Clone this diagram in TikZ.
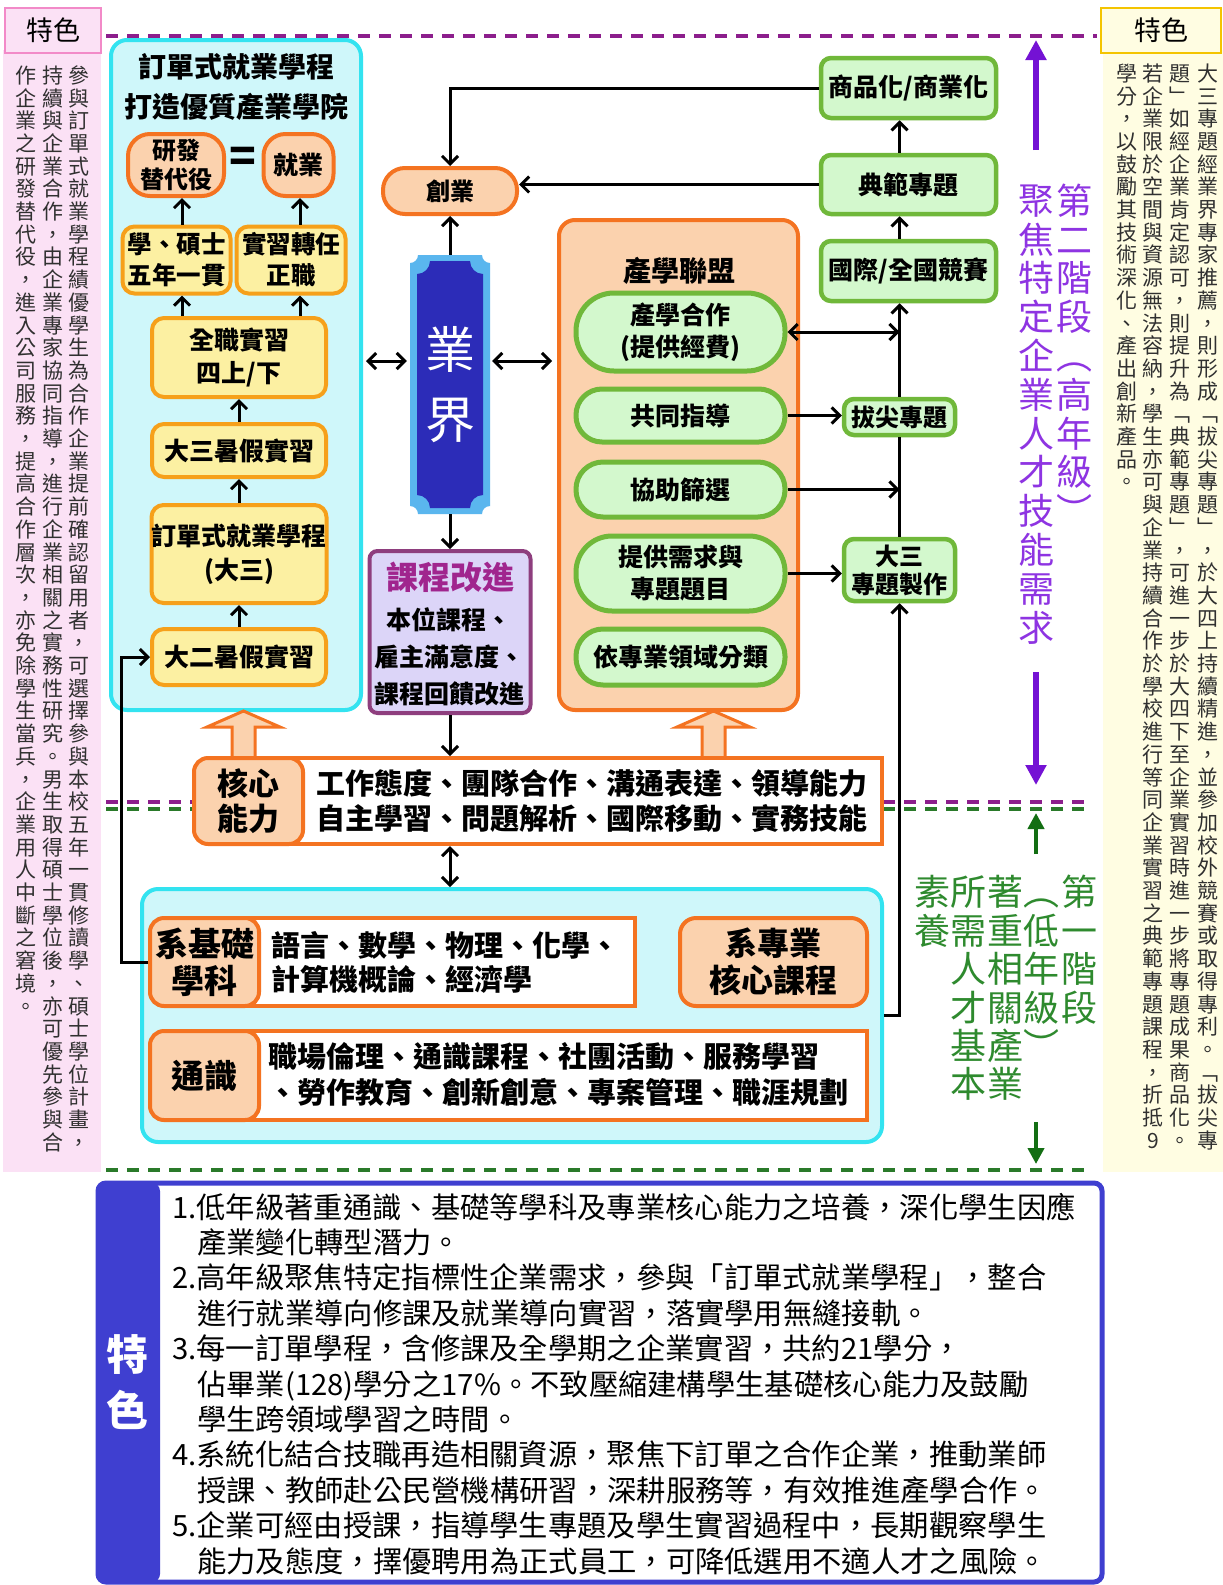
\documentclass[tikz,border=0pt]{standalone}
\usepackage{fontspec}
\setmainfont{Noto Sans CJK TC}
\usetikzlibrary{arrows.meta}
\definecolor{cyanB}{HTML}{33E3F0}
\definecolor{cyanF}{HTML}{CFF7FA}
\definecolor{peachF}{HTML}{FBD2AE}
\definecolor{orangeB}{HTML}{F47321}
\definecolor{yelF}{HTML}{FCF0A2}
\definecolor{yelB}{HTML}{F6A01A}
\definecolor{grnF}{HTML}{D3F8CD}
\definecolor{grnB}{HTML}{70B83A}
\definecolor{lavF}{HTML}{DCD5F8}
\definecolor{plumB}{HTML}{8E3E7E}
\definecolor{plumT}{HTML}{A0258E}
\definecolor{ltblue}{HTML}{5AB6EE}
\definecolor{dkblue}{HTML}{2C2CB8}
\definecolor{violetA}{HTML}{7412D4}
\definecolor{violetT}{HTML}{8E34E2}
\definecolor{greenT}{HTML}{2E8A2E}
\definecolor{greenA}{HTML}{136E13}
\definecolor{dashP}{HTML}{8C1E8C}
\definecolor{dashG}{HTML}{2A7A2A}
\definecolor{pinkF}{HTML}{FBE1F5}
\definecolor{pinkB}{HTML}{F28AC8}
\definecolor{paleY}{HTML}{FFFDE2}
\definecolor{goldB}{HTML}{F4C400}
\definecolor{blueB}{HTML}{3F3FD0}
\definecolor{sideT}{HTML}{303030}
\newdimen\vpitch
\def\vloop#1{\ifx#1\relax\else\hbox to\vpitch{\hss\vrule height.8\vpitch depth.2\vpitch width0pt\relax#1\hss}\expandafter\vloop\fi}
\newcommand\vtext[2]{\vpitch=#1\relax\vbox{\offinterlineskip\vloop#2\relax}}
\begin{document}
\begin{tikzpicture}[x=1pt,y=-1pt,
  tb/.style={font=\bfseries\fontsize{25}{31}\selectfont, align=center},
  ybox/.style={tb, draw=yelB, fill=yelF, line width=4pt, rounded corners=12pt, inner sep=0pt},
  pbox/.style={tb, draw=orangeB, fill=peachF, line width=4pt, inner sep=0pt},
  gstad/.style={tb, draw=grnB, fill=grnF, line width=5pt, inner sep=0pt, minimum width=209pt},
  gbox/.style={tb, draw=grnB, fill=grnF, line width=4.5pt, rounded corners=10pt, inner sep=0pt},
  wbox/.style={draw=orangeB, fill=white, line width=4pt, inner sep=0pt},
  cbox/.style={draw=cyanB, fill=cyanF, line width=4pt, rounded corners=16pt, inner sep=0pt},
  side/.style={inner sep=0pt, anchor=north, text=sideT, font=\fontsize{21}{22}\selectfont},
  ptxt/.style={inner sep=0pt, anchor=north, text=violetT, font=\fontsize{36}{38}\selectfont},
  gtxt/.style={inner sep=0pt, anchor=north, text=greenT, font=\fontsize{36}{38}\selectfont},
  bl/.style={anchor=base west, inner sep=0pt, font=\fontsize{29.3}{35}\selectfont},
  ln/.style={line width=3pt},
  arr/.style={line width=3pt, -{Straight Barb[length=8pt,width=16pt]}},
  darr/.style={line width=3pt, {Straight Barb[length=8pt,width=16pt]}-{Straight Barb[length=8pt,width=16pt]}},
  dsh/.style={line width=4pt, dash pattern=on 12pt off 9pt},
]
\useasboundingbox (0,0) rectangle (1223,1585);
\fill[white] (0,0) rectangle (1223,1585);

% side panels
\fill[pinkF] (3,50) rectangle (101,1172);
\fill[paleY] (1103,50) rectangle (1223,1172);
\node[draw=pinkB, fill=pinkF, line width=2.5pt, minimum width=96pt, minimum height=45pt, inner sep=0pt, font=\fontsize{27}{30}\selectfont] (lh) at (53,30.5) {特色};
\node[draw=goldB, fill=paleY, line width=2.5pt, minimum width=120pt, minimum height=45pt, inner sep=0pt, font=\fontsize{27}{30}\selectfont] (rh) at (1161,30.5) {特色};

\node[side] (L1) at (79,65) {\vtext{22.7pt}{參與訂單式就業學程績優學生為合作企業提前確認留用者，可選擇參與本校五年一貫修讀學、碩士學位計畫，}};
\node[side] (L2) at (53,65) {\vtext{22.7pt}{持續與企業合作，由企業專家協同指導，進行企業相關之實務性研究。男生取得碩士學位後，亦可優先參與合}};
\node[side] (L3) at (26,65) {\vtext{22.7pt}{作企業之研發替代役，進入公司服務，提高合作層次，亦免除學生當兵，企業用人中斷之窘境。}};

\node[side] (R1) at (1208,63) {\vtext{22.7pt}{大三專題經業界專家推薦，則形成﹁拔尖專題﹂，於大四上持續精進，並參加校外競賽或取得專利。﹁拔尖專}};
\node[side] (R2) at (1180,63) {\vtext{22.7pt}{題﹂如經企業肯定認可，則提升為﹁典範專題﹂，可進一步於大四下至企業實習時進一步將專題成果商品化。}};
\node[side] (R3) at (1153,63) {\vtext{22.7pt}{若企業限於空間與資源無法容納，學生亦可與企業持續合作於學校進行等同企業實習之典範專題課程，折抵9}};
\node[side] (R4) at (1127,63) {\vtext{22.7pt}{學分，以鼓勵其技術深化、產出創新產品。}};

% dashed lines
\draw[dsh, dashP] (106,36) -- (1097,36);
\draw[dsh, dashP] (106,802) -- (1087,802);
\draw[dsh, dashG] (106,809) -- (1087,809);
\draw[dsh, dashG] (106,1170) -- (1087,1170);

% stage arrows and texts
\coordinate (pa1) at (1036,150); \coordinate (pa2) at (1036,40);
\coordinate (pa3) at (1036,672); \coordinate (pa4) at (1036,785);
\draw[violetA, line width=6pt, -{Triangle[length=20pt,width=20pt]}] (pa1) -- (pa2);
\draw[violetA, line width=6pt, -{Triangle[length=20pt,width=20pt]}] (pa3) -- (pa4);
\coordinate (ga1) at (1036,854); \coordinate (ga2) at (1036,813);
\coordinate (ga3) at (1036,1122); \coordinate (ga4) at (1036,1164);
\draw[greenA, line width=4pt, -{Triangle[length=16pt,width=16pt]}] (ga1) -- (ga2);
\draw[greenA, line width=4pt, -{Triangle[length=16pt,width=16pt]}] (ga3) -- (ga4);

\node[ptxt] (P1) at (1074,183) {\vtext{38.8pt}{第二階段︵高年級︶}};
\node[ptxt] (P2) at (1036,183) {\vtext{38.8pt}{聚焦特定企業人才技能需求}};
\node[gtxt] (G1) at (1079,875) {\vtext{38.4pt}{第一階段}};
\node[gtxt] (G2) at (1041,875) {\vtext{38.4pt}{︵低年級︶}};
\node[gtxt] (G3) at (1005,875) {\vtext{38.4pt}{著重相關產業}};
\node[gtxt] (G4) at (968,875) {\vtext{38.4pt}{所需人才基本}};
\node[gtxt] (G5) at (932,875) {\vtext{38.4pt}{素養}};

% big containers
\node[cbox, minimum width=250pt, minimum height=670pt] (cbig) at (236,375) {};
\node[draw=orangeB, fill=peachF, line width=4pt, rounded corners=16pt, inner sep=0pt, minimum width=239pt, minimum height=490pt] (cxbig) at (678.5,465) {};
\node[cbox, minimum width=740pt, minimum height=253pt] (cb) at (512,1015.5) {};

% left column boxes
\node[font=\bfseries\fontsize{28}{40}\selectfont, align=center, inner sep=0pt] (ttl) at (236,87) {訂單式就業學程\\打造優質產業學院};
\node[pbox, rounded corners=22pt, minimum width=96pt, minimum height=62pt, font=\bfseries\fontsize{24}{29}\selectfont] (yf) at (176,165) {研發\\替代役};
\node[inner sep=0pt, font=\bfseries\fontsize{44}{44}\selectfont] (eq) at (243,160) {=};
\node[pbox, rounded corners=22pt, minimum width=70pt, minimum height=62pt] (jy) at (298.5,165) {就業};
\node[ybox, minimum width=108pt, minimum height=67pt, font=\bfseries\fontsize{24.5}{31}\selectfont] (xs) at (176.5,260) {學、碩士\\五年一貫};
\node[ybox, minimum width=109pt, minimum height=67pt, font=\bfseries\fontsize{24.5}{31}\selectfont] (sx) at (291,260) {實習轉任\\正職};
\node[ybox, minimum width=174pt, minimum height=79pt, font=\bfseries\fontsize{25}{33}\selectfont] (qz) at (239,357.5) {全職實習\\四上/下};
\node[ybox, minimum width=174pt, minimum height=53pt] (d3) at (239,450.5) {大三暑假實習};
\node[ybox, minimum width=174pt, minimum height=98pt, font=\bfseries\fontsize{25}{34}\selectfont] (dd) at (239,554) {訂單式就業學程\\(大三)};
\node[ybox, minimum width=174pt, minimum height=56pt] (d2) at (239,657) {大二暑假實習};

\draw[arr] (d2.north) -- (dd.south);
\draw[arr] (dd.north) -- (d3.south);
\draw[arr] (d3.north) -- (qz.south);
\draw[arr] ([xshift=-57pt]qz.north) -- ([xshift=5.5pt]xs.south);
\draw[arr] ([xshift=61pt]qz.north) -- ([xshift=9pt]sx.south);
\draw[arr] ([xshift=5.5pt]xs.north) -- ([xshift=6pt]yf.south);
\draw[arr] ([xshift=9pt]sx.north) -- ([xshift=1.5pt]jy.south);

% industry pillar
\fill[ltblue] (418,255) -- (482,255) arc[start angle=180,end angle=90,radius=8] -- (490,506) arc[start angle=270,end angle=180,radius=8] -- (418,514) arc[start angle=0,end angle=-90,radius=8] -- (410,263) arc[start angle=90,end angle=0,radius=8] -- cycle;
\fill[dkblue] (430,261) -- (470,261) arc[start angle=180,end angle=90,radius=13] -- (483,495) arc[start angle=270,end angle=180,radius=13] -- (430,508) arc[start angle=0,end angle=-90,radius=13] -- (417,274) arc[start angle=90,end angle=0,radius=13] -- cycle;
\node[minimum width=80pt, minimum height=259pt, inner sep=0pt, text=white, align=center, font=\fontsize{50}{70}\selectfont] (yj) at (450,384.5) {業\\界};

\node[pbox, rounded corners=22pt, minimum width=134pt, minimum height=46pt, font=\bfseries\fontsize{24}{29}\selectfont] (cy) at (450,191) {創業};
\node[draw=plumB, fill=lavF, line width=4pt, rounded corners=8pt, inner sep=0pt, minimum width=161pt, minimum height=162pt] (kg) at (450,632) {};
\node[inner sep=0pt, text=plumT, font=\bfseries\fontsize{32}{36}\selectfont] (kg1) at (450,577) {課程改進};
\node[tb, inner sep=0pt, font=\bfseries\fontsize{25}{37}\selectfont] (kg2) at (449,657) {本位課程、\\雇主滿意度、\\課程回饋改進};

% industry-academia alliance
\node[inner sep=0pt, font=\bfseries\fontsize{28}{32}\selectfont] (cxt) at (679,271) {產學聯盟};
\node[gstad, rounded corners=38pt, minimum height=78pt, font=\bfseries\fontsize{25}{32}\selectfont] (c1) at (680.5,332) {產學合作\\(提供經費)};
\node[gstad, rounded corners=26pt, minimum height=53pt] (c2) at (680.5,415.5) {共同指導};
\node[gstad, rounded corners=27pt, minimum height=55pt] (c3) at (680.5,489.5) {協助篩選};
\node[gstad, rounded corners=36pt, minimum height=75pt, font=\bfseries\fontsize{25}{32}\selectfont] (c4) at (680.5,573.5) {提供需求與\\專題題目};
\node[gstad, rounded corners=27pt, minimum height=56pt] (c5) at (680.5,657) {依專業領域分類};

% right green boxes
\node[gbox, minimum width=175pt, minimum height=60pt] (sp) at (908.5,88) {商品化/商業化};
\node[gbox, minimum width=175pt, minimum height=59pt] (df) at (908.5,184.5) {典範專題};
\node[gbox, minimum width=175pt, minimum height=60pt] (gj) at (908.5,271) {國際/全國競賽};
\node[gbox, minimum width=111pt, minimum height=36pt, font=\bfseries\fontsize{24}{28}\selectfont] (bj) at (899.5,417) {拔尖專題};
\node[gbox, minimum width=111pt, minimum height=62pt, font=\bfseries\fontsize{24}{28}\selectfont] (dz) at (899.5,570) {大三\\專題製作};

% connectors upper area
\draw[arr] (sp.west) -| (cy.north);
\draw[arr] (df.west) -- (df.west -| cy.east);
\draw[arr] (yj.north) -- (cy.south);
\draw[arr] (yj.south) -- (kg.north);
\coordinate (ym) at (450,361);
\draw[darr, shorten <=3pt, shorten >=3pt] (cbig.east |- ym) -- (yj.west |- ym);
\draw[darr, shorten <=2pt, shorten >=5pt] (yj.east |- ym) -- (cxbig.west |- ym);
\draw[darr] (c1.east) -- (c1.east -| bj.north);
\draw[arr] (c2.east) -- (c2.east -| bj.west);
\draw[arr] (c3.east) -- (c3.east -| bj.north);
\draw[arr] (c4.east) -- (c4.east -| dz.west);
\draw[ln] (dz.north) -- (bj.south);
\draw[arr] (bj.north) -- (bj.north |- gj.south);
\draw[arr] (bj.north |- gj.north) -- (bj.north |- df.south);
\draw[arr] (bj.north |- df.north) -- (bj.north |- sp.south);

% block arrows
\filldraw[fill=peachF, draw=orangeB, line width=3pt, line join=miter] (232,762) -- (232,727) -- (207,727) -- (243.5,711) -- (280,727) -- (255,727) -- (255,762) -- cycle;
\filldraw[fill=peachF, draw=orangeB, line width=3pt, line join=miter] (702,762) -- (702,727) -- (677,727) -- (713.5,711) -- (750,727) -- (725,727) -- (725,762) -- cycle;

% core competence
\node[wbox, minimum width=642pt, minimum height=86pt] (hxt) at (561,801) {};
\node[pbox, rounded corners=14pt, minimum width=109pt, minimum height=86pt, font=\bfseries\fontsize{31}{35.4}\selectfont] (hx) at (248.5,801) {核心\\能力};
\node[tb, inner sep=0pt, font=\bfseries\fontsize{29}{35.4}\selectfont] (hxw) at (592,801) {工作態度、團隊合作、溝通表達、領導能力\\自主學習、問題解析、國際移動、實務技能};
\draw[arr] (kg.south) -- (kg.south |- hxt.north);
\draw[darr] (hxt.south -| kg.south) -- (kg.south |- cb.north);

% bottom cyan contents
\node[wbox, minimum width=405pt, minimum height=88pt] (jct) at (432.5,962) {};
\node[pbox, rounded corners=14pt, minimum width=109pt, minimum height=88pt, font=\bfseries\fontsize{33}{37}\selectfont] (jc) at (204.5,962) {系基礎\\學科};
\node[anchor=west, inner sep=0pt, align=left, font=\bfseries\fontsize{29}{34}\selectfont] (jcw) at (271,962) {語言、數學、物理、化學、\\計算機概論、經濟學};
\node[pbox, rounded corners=16pt, minimum width=187pt, minimum height=88pt, font=\bfseries\fontsize{32}{37}\selectfont] (jz) at (773.5,962) {系專業\\核心課程};
\node[wbox, minimum width=637pt, minimum height=89pt] (tgt) at (548.5,1075.5) {};
\node[pbox, rounded corners=14pt, minimum width=109pt, minimum height=89pt, font=\bfseries\fontsize{33}{37}\selectfont] (tg) at (204.5,1075.5) {通識};
\node[anchor=west, inner sep=0pt, align=left, font=\bfseries\fontsize{29}{36}\selectfont] (tgw) at (268,1075) {職場倫理、通識課程、社團活動、服務學習\\、勞作教育、創新創意、專案管理、職涯規劃};

\draw[arr] (jc.west) -- ++(-27,0) |- (d2.west);
\draw[arr] (cb.east) -| (dz.south);

% bottom feature box
\fill[blueB, rounded corners=8pt] (98,1183) rectangle (160,1582);
\draw[blueB, line width=5pt, rounded corners=8pt] (98,1183) rectangle (1102,1582);
\node[text=white, align=center, inner sep=0pt, font=\bfseries\fontsize{42}{56}\selectfont] (ts) at (127,1382) {特\\色};
\node[bl] (b1) at (172,1218) {1.低年級著重通識、基礎等學科及專業核心能力之培養，深化學生因應};
\node[bl] (b2) at (197,1253.4) {產業變化轉型潛力。};
\node[bl] (b3) at (172,1288.8) {2.高年級聚焦特定指標性企業需求，參與「訂單式就業學程」，整合};
\node[bl] (b4) at (197,1324.2) {進行就業導向修課及就業導向實習，落實學用無縫接軌。};
\node[bl] (b5) at (172,1359.6) {3.每一訂單學程，含修課及全學期之企業實習，共約21學分，};
\node[bl] (b6) at (197,1395) {佔畢業(128)學分之17\%。不致壓縮建構學生基礎核心能力及鼓勵};
\node[bl] (b7) at (197,1430.4) {學生跨領域學習之時間。};
\node[bl] (b8) at (172,1465.8) {4.系統化結合技職再造相關資源，聚焦下訂單之合作企業，推動業師};
\node[bl] (b9) at (197,1501.2) {授課、教師赴公民營機構研習，深耕服務等，有效推進產學合作。};
\node[bl] (b10) at (172,1536.6) {5.企業可經由授課，指導學生專題及學生實習過程中，長期觀察學生};
\node[bl] (b11) at (197,1572) {能力及態度，擇優聘用為正式員工，可降低選用不適人才之風險。};
\end{tikzpicture}
\end{document}
